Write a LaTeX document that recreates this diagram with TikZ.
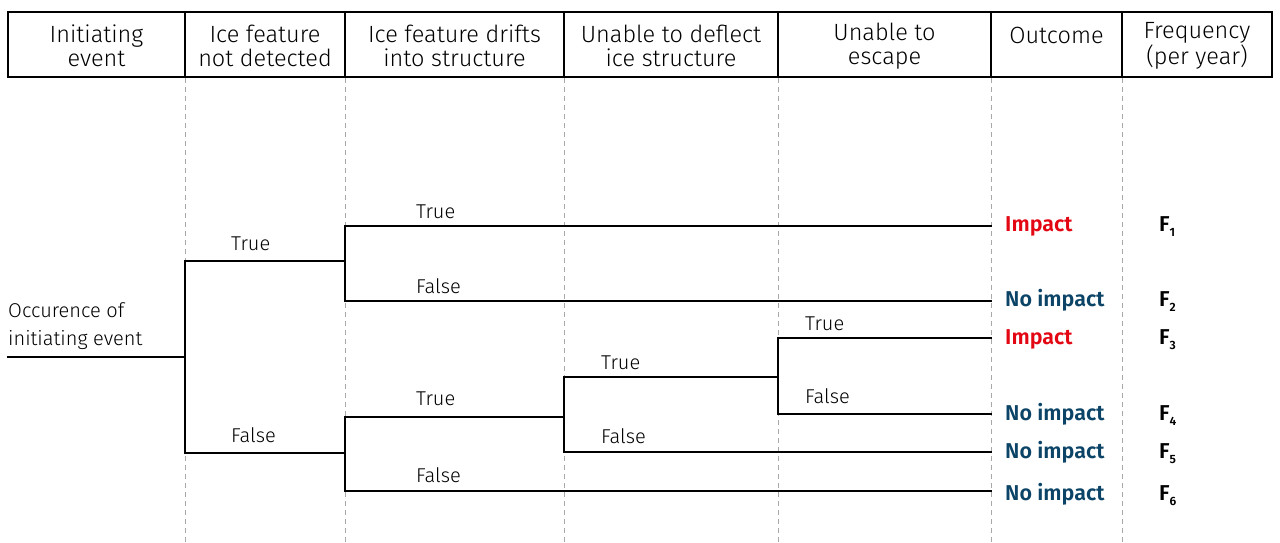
\documentclass[tikz,border=0pt]{standalone}
\usepackage{fontspec}
\setmainfont{Fira Sans Light}[BoldFont={Fira Sans SemiBold}]
\definecolor{impactred}{HTML}{E30613}
\definecolor{noimpact}{HTML}{0B4466}
\definecolor{guide}{HTML}{A8A8A8}
\begin{document}
\begin{tikzpicture}[x=1pt,y=-1pt,
  head/.style={align=center,font=\fontsize{23.5}{24}\selectfont,inner sep=0pt},
  branch/.style={line width=1.8pt,line cap=rect},
  lab/.style={anchor=base west,font=\fontsize{20}{22}\selectfont,inner sep=0pt},
  hit/.style={anchor=base west,font=\fontsize{21.5}{22}\selectfont\bfseries,text=impactred,inner sep=0pt},
  safe/.style={anchor=base west,font=\fontsize{21.5}{22}\selectfont\bfseries,text=noimpact,inner sep=0pt},
  freq/.style={anchor=base west,font=\fontsize{21.5}{22}\selectfont\bfseries,inner sep=0pt},
  guideline/.style={guide,line width=0.9pt,dash pattern=on 5pt off 4pt}]
\useasboundingbox (0,0) rectangle (1280,543);

% column guides
\foreach \gx in {185,345,564,778,991,1122}
  \draw[guideline] (\gx,78) -- (\gx,543);

% header table
\draw[line width=2.4pt] (8,12) rectangle (1272,77);
\foreach \gx in {185,345,564,778,991,1122}
  \draw[line width=2.4pt] (\gx,12) -- (\gx,77);
\node[head] (h1) at (96.5,46)  {Initiating\\event};
\node[head] (h2) at (265,46)  {Ice feature\\not detected};
\node[head] (h3) at (454.5,46) {Ice feature drifts\\into structure};
\node[head] (h4) at (671,46)  {Unable to deflect\\ice structure};
\node[head] (h5) at (884.5,46) {Unable to\\escape};
\node[head] (h6) at (1056.5,35) {Outcome};
\node[head] (h7) at (1197,46) {Frequency\\(per year)};

% tree coordinates
\coordinate (root) at (8,357);
\coordinate (n1) at (185,357);
\coordinate (n1t) at (185,261);
\coordinate (n1f) at (185,453);
\coordinate (n2t) at (345,261);
\coordinate (n2a) at (345,226);
\coordinate (n2b) at (345,301);
\coordinate (n3f) at (345,453);
\coordinate (n3a) at (345,417);
\coordinate (n3b) at (345,491);
\coordinate (n4) at (564,417);
\coordinate (n4a) at (564,377);
\coordinate (n4b) at (564,452);
\coordinate (n5) at (778,377);
\coordinate (n5a) at (778,338);
\coordinate (n5b) at (778,414);
\coordinate (e1) at (991,226);
\coordinate (e2) at (991,301);
\coordinate (e3) at (991,338);
\coordinate (e4) at (991,414);
\coordinate (e5) at (991,452);
\coordinate (e6) at (991,491);

% branches
\draw[branch] (root) -- (n1);
\draw[branch] (n1t) -- (n1f);
\draw[branch] (n1t) -- (n2t);
\draw[branch] (n1f) -- (n3f);
\draw[branch] (n2a) -- (n2b);
\draw[branch] (n2a) -- (e1);
\draw[branch] (n2b) -- (e2);
\draw[branch] (n3a) -- (n3b);
\draw[branch] (n3a) -- (n4);
\draw[branch] (n3b) -- (e6);
\draw[branch] (n4a) -- (n4b);
\draw[branch] (n4a) -- (n5);
\draw[branch] (n4b) -- (e5);
\draw[branch] (n5a) -- (n5b);
\draw[branch] (n5a) -- (e3);
\draw[branch] (n5b) -- (e4);

% initiating event text
\node[lab] (ie1) at (8,317) {Occurence of};
\node[lab] (ie2) at (8,345) {initiating event};

% branch labels
\node[lab] (l1) at (231,250) {True};
\node[lab] (l2) at (231,442) {False};
\node[lab] (l3) at (416,218) {True};
\node[lab] (l4) at (416,293) {False};
\node[lab] (l5) at (416,405) {True};
\node[lab] (l6) at (416,482) {False};
\node[lab] (l7) at (601,369) {True};
\node[lab] (l8) at (601,443) {False};
\node[lab] (l9) at (805,330) {True};
\node[lab] (l10) at (805,403) {False};

% outcomes
\node[hit]  (o1) at (1005,231) {Impact};
\node[safe] (o2) at (1005,306) {No impact};
\node[hit]  (o3) at (1005,344) {Impact};
\node[safe] (o4) at (1005,420) {No impact};
\node[safe] (o5) at (1005,458) {No impact};
\node[safe] (o6) at (1005,500) {No impact};

% frequencies
\newcommand{\freqsub}[1]{F\raisebox{-0.45ex}{\fontsize{12}{12}\selectfont #1}}
\node[freq] (f1) at (1159,231) {\freqsub{1}};
\node[freq] (f2) at (1159,306) {\freqsub{2}};
\node[freq] (f3) at (1159,344) {\freqsub{3}};
\node[freq] (f4) at (1159,420) {\freqsub{4}};
\node[freq] (f5) at (1159,458) {\freqsub{5}};
\node[freq] (f6) at (1159,500) {\freqsub{6}};
\end{tikzpicture}
\end{document}
